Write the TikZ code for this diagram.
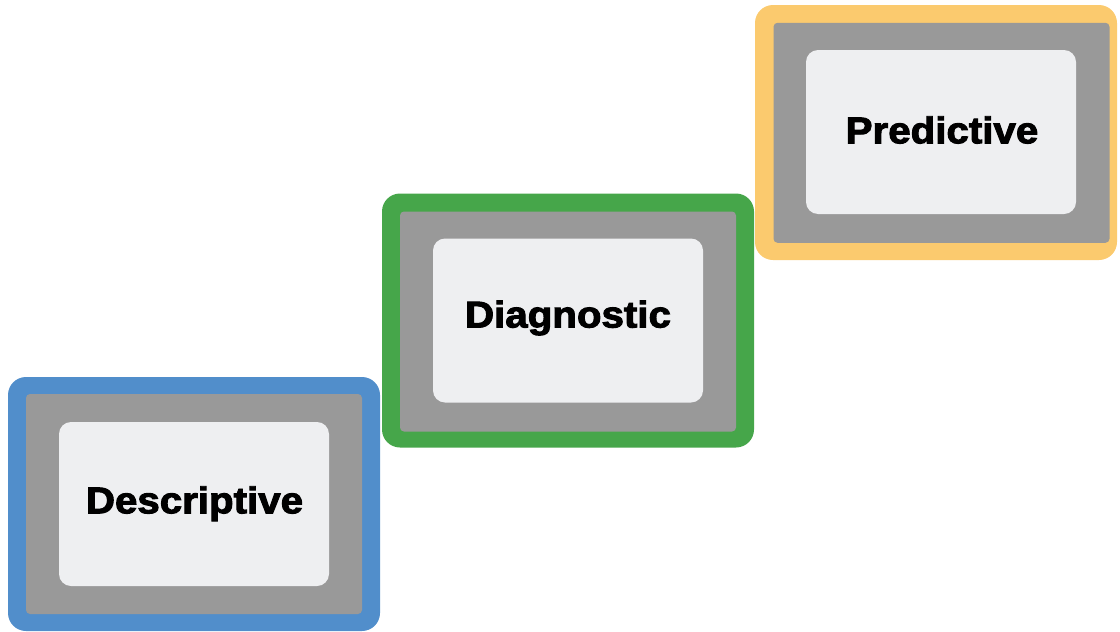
\documentclass[tikz,border=0pt]{standalone}
\usepackage{graphicx}
\usepackage{fontspec}
\setmainfont{Liberation Sans}
\newfontfamily\heavyfont{Liberation Sans Bold}[FakeBold=2.5]
\definecolor{blueC}{HTML}{518ECB}
\definecolor{greenC}{HTML}{46A64A}
\definecolor{yellowC}{HTML}{FBCA6E}
\definecolor{grayC}{HTML}{999999}
\definecolor{lightC}{HTML}{EEEFF1}
\begin{document}
\begin{tikzpicture}[x=1pt,y=-1pt,
  outerbox/.style={fill=#1, draw=none, rounded corners=18pt, inner sep=0pt, outer sep=0pt, minimum height=254pt, minimum width=372pt},
  graybox/.style={fill=grayC, draw=none, rounded corners=4pt, inner sep=0pt, outer sep=0pt, minimum width=336pt, minimum height=220pt},
  lightbox/.style={fill=lightC, draw=none, rounded corners=12pt, inner sep=0pt, outer sep=0pt, minimum width=270pt, minimum height=164pt},
  lbl/.style={inner sep=0pt, anchor=base, font=\heavyfont\fontsize{37.3}{44}\selectfont}
]
\useasboundingbox (0,0) rectangle (1120,632);
% Descriptive
\node[outerbox=blueC] (o1) at (194,504) {};
\node[graybox] (g1) at (194,504) {};
\node[lightbox] (l1) at (194,504) {};
\node[lbl] (t1) at (194.5,513.3) {\scalebox{1.08}[1]{Descriptive}};
% Diagnostic
\node[outerbox=greenC] (o2) at (568,320.5) {};
\node[graybox] (g2) at (568,321.5) {};
\node[lightbox] (l2) at (568,320.5) {};
\node[lbl] (t2) at (568,327.5) {\scalebox{1.08}[1]{Diagnostic}};
% Predictive
\node[outerbox=yellowC, minimum width=362pt, minimum height=255pt] (o3) at (936,132.5) {};
\node[graybox] (g3) at (941.5,132.8) {};
\node[lightbox] (l3) at (941,132) {};
\node[lbl] (t3) at (942,143.3) {\scalebox{1.08}[1]{Predictive}};
\end{tikzpicture}
\end{document}
